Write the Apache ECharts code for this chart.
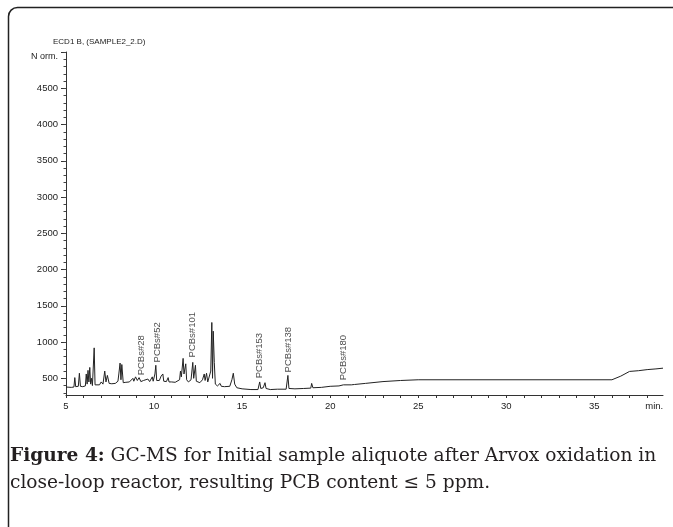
<!DOCTYPE html>
<html>
<head>
<meta charset="utf-8">
<script src="https://cdn.jsdelivr.net/npm/echarts@6/dist/echarts.min.js"></script>
<style>
html,body{margin:0;padding:0;background:#fff;}
#chart{width:673px;height:527px;}
</style>
</head>
<body>
<div id="chart"></div>
<script>
// Retention time (min) and detector response (Norm.)
var times = [5.0,5.3,5.45,5.5,5.55,5.7,5.76,5.82,5.95,6.1,6.15,6.2,6.25,6.3,6.35,6.4,6.45,6.5,6.6,6.65,6.75,6.9,7.0,7.1,7.2,7.27,7.35,7.45,7.6,7.8,7.95,8.0,8.07,8.12,8.17,8.25,8.4,8.6,8.8,8.85,8.95,9.05,9.15,9.25,9.4,9.5,9.65,9.75,9.9,9.95,10.05,10.1,10.15,10.3,10.4,10.5,10.55,10.7,10.8,10.85,11.0,11.2,11.45,11.5,11.55,11.65,11.7,11.8,11.85,11.95,12.1,12.2,12.25,12.35,12.4,12.6,12.75,12.85,12.9,12.98,13.05,13.15,13.22,13.28,13.32,13.36,13.42,13.48,13.6,13.75,13.82,14.0,14.3,14.42,14.5,14.58,14.7,15.0,15.5,15.9,16.0,16.06,16.2,16.3,16.36,16.6,17.0,17.5,17.6,17.66,18.0,18.5,18.9,18.95,19.02,19.5,20.0,20.5,20.75,20.82,21.2,21.3,21.38,22.0,23.0,24.0,25.0,36.0,36.5,37.0,37.5,38.0,38.5,38.9];
var signal = [380,375,380,510,385,390,570,390,385,395,560,420,610,450,650,420,500,400,920,410,405,410,450,420,600,450,540,430,425,430,460,560,710,480,690,440,445,450,500,460,520,470,510,455,470,450,490,455,520,460,560,680,470,470,530,560,460,455,510,450,450,445,480,600,520,775,560,700,480,450,480,720,500,680,460,440,480,560,470,570,450,460,600,1270,500,1150,720,420,395,430,390,385,390,480,570,420,370,355,345,345,450,360,370,440,360,345,350,350,540,360,355,360,365,430,370,375,390,395,410,400,410,430,415,430,455,470,480,480,530,595,605,620,630,640];

// Peak annotations: name, retention time, response at label base
var peakNames = ['PCBs#28','PCBs#52','PCBs#101','PCBs#153','PCBs#138','PCBs#180'];
var peakTimes = [9.3,10.17,12.2,16.0,17.6,20.75];
var peakLabelBase = [541,719,788,500,582,473];

// Axis tick labels
var xTickLabels = [5,10,15,20,25,30,35];
var xMinorTicks = [5,6,7,8,9,10,11,12,13,14,15,16,17,18,19,20,21,22,23,24,25,26,27,28,29,30,31,32,33,34,35,36,37,38];
var yTickLabels = [500,1000,1500,2000,2500,3000,3500,4000,4500];
var yMinorTicks = [300,400,500,600,700,800,900,1000,1100,1200,1300,1400,1500,1600,1700,1800,1900,2000,2100,2200,2300,2400,2500,2600,2700,2800,2900,3000,3100,3200,3300,3400,3500,3600,3700,3800,3900,4000,4100,4200,4300,4400,4500,4600,4700,4800,4900,5000];

var lineData = times.map(function(t,i){return [t, signal[i]];});
var peakData = peakTimes.map(function(t,i){return {value:[t, peakLabelBase[i]], name: peakNames[i]};});

var chart = echarts.init(document.getElementById('chart'));
var axisFont = {fontFamily:'Liberation Sans, Arial, sans-serif', fontSize:9.5, color:'#222'};
var serif = 'DejaVu Serif, serif';
chart.setOption({
  animation:false,
  backgroundColor:'#fff',
  title:[
    {text:'ECD1 B, (SAMPLE2_2.D)', left:53, top:38, padding:0,
     textStyle:{fontFamily:'Liberation Sans, Arial, sans-serif', fontSize:8, fontWeight:'normal', color:'#222'}},
    {text:'{b|Figure 4:} GC-MS for Initial sample aliquote after Arvox oxidation in\nclose-loop reactor, resulting PCB content \u2264 5 ppm.',
     left:10, top:443, padding:0,
     textStyle:{fontFamily:serif, fontSize:18.6, fontWeight:'normal', color:'#231f20', lineHeight:27,
       rich:{b:{fontFamily:serif, fontSize:18.6, fontWeight:'bold', color:'#231f20', lineHeight:27}}}}
  ],
  graphic:[{type:'rect', shape:{x:8.5,y:7.5,width:720,height:600,r:9}, style:{fill:'none', stroke:'#222', lineWidth:1.5}, silent:true}],
  grid:{left:66, top:52, width:597, height:343},
  xAxis:{type:'value', min:5, max:38.9,
    axisLine:{lineStyle:{color:'#333', width:1}},
    axisTick:{customValues:xMinorTicks, length:3, lineStyle:{color:'#333'}},
    axisLabel:Object.assign({customValues:xTickLabels.concat([38.4]), margin:6,
      formatter:function(v){return v>38 ? 'min.' : String(v);}}, axisFont),
    splitLine:{show:false}},
  yAxis:[
    {type:'value', min:270, max:5000,
      axisLine:{show:true, lineStyle:{color:'#333', width:1}},
      axisTick:{customValues:yTickLabels.concat([5000]), length:5, lineStyle:{color:'#333'}},
      axisLabel:Object.assign({customValues:yTickLabels.concat([5000]), margin:8,
        formatter:function(v){return v===5000 ? '{n|N orm.}' : String(v);},
        rich:{n:{fontFamily:'Liberation Sans, Arial, sans-serif', fontSize:9, color:'#222', padding:[10,0,0,0]}}}, axisFont),
      splitLine:{show:false}},
    {type:'value', min:270, max:5000, position:'left',
      axisLine:{show:false},
      axisTick:{customValues:yMinorTicks, length:2.5, lineStyle:{color:'#444'}},
      axisLabel:{show:false}, splitLine:{show:false}}
  ],
  series:[
    {type:'line', data:lineData, showSymbol:false, lineStyle:{color:'#222', width:1}, yAxisIndex:0},
    {type:'scatter', data:peakData, symbolSize:0, yAxisIndex:0,
      label:{show:true, position:'top', distance:0, rotate:90, align:'left', verticalAlign:'middle',
        formatter:function(p){return p.name;},
        fontFamily:'Liberation Sans, Arial, sans-serif', fontSize:9.5, color:'#222'}}
  ]
});
</script>
</body>
</html>
